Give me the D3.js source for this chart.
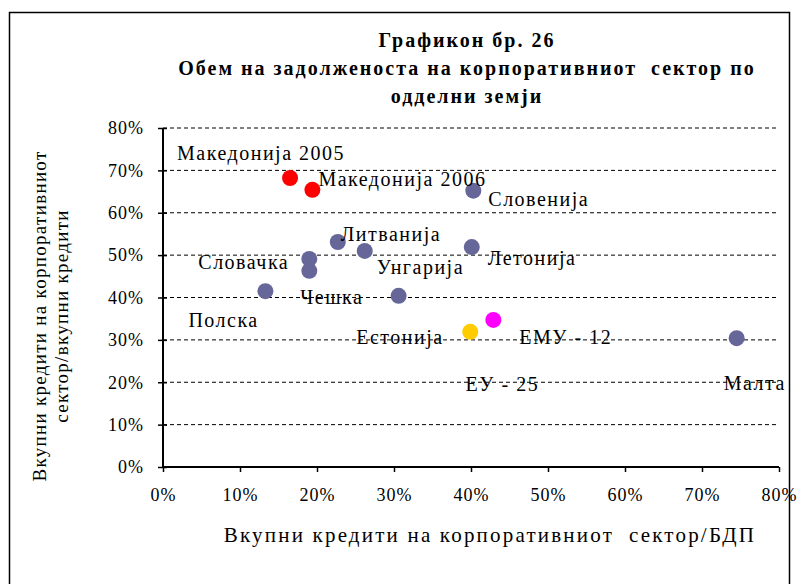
<!DOCTYPE html>
<html><head><meta charset="utf-8">
<script src="https://cdn.jsdelivr.net/npm/d3@7"></script>
<style>body{margin:0;background:#fff}svg text{font-family:"Liberation Serif","Times New Roman",serif;fill:#000;white-space:pre}</style>
</head><body><svg id="c" width="800" height="584"></svg>
<script>
const names = ["Македонија 2005","Македонија 2006","Словенија","Литванија","Унгарија","Летонија","Словачка","Чешка","Полска","ЕУ - 25","Естонија","ЕМУ - 12","Малта"];
const xValues = [16.5,19.4,40.3,22.7,26.2,40.1,19.0,19.0,13.3,30.6,39.9,42.9,74.5];
const yValues = [68.2,65.4,65.2,53.1,51.0,51.9,49.1,46.3,41.5,40.4,31.9,34.7,30.4];
const groups = ["mk","mk","c","c","c","c","c","c","c","c","ee","emu","c"];
const xTicks = [0,10,20,30,40,50,60,70,80];
const yTicks = [0,10,20,30,40,50,60,70,80];
const titleLines = ["Графикон бр. 26","Обем на задолженоста на корпоративниот  сектор по","одделни земји"];
const yTitleLines = ["Вкупни кредити на корпоративниот","сектор/вкупни кредити"];
const xTitle = "Вкупни кредити на корпоративниот  сектор/БДП";

// label placement (pixel offsets from point, text-anchor start)
const labelOffsets = [[-113,-18],[6,-4],[15,15],[3,-1],[12,23],[16,18],[-111,10],[-9,33],[-77,36],[67,95],[-114,12],[26,24],[-13,52]];
const colors = {mk:"#FF0000", c:"#666699", ee:"#FFCC00", emu:"#FF00FF"};

const svg = d3.select("#c");
const L=163, R=779, T=128, B=467;
const x = d3.scaleLinear().domain([0,80]).range([L,R]);
const y = d3.scaleLinear().domain([0,80]).range([B,T]);

svg.append("rect").attr("x",9.5).attr("y",12.5).attr("width",780).attr("height",600)
  .attr("fill","none").attr("stroke","#000").attr("stroke-width",1.5);

// title
svg.append("g").selectAll("text").data(titleLines).join("text")
  .attr("x",467).attr("y",(d,i)=>47+i*28).attr("text-anchor","middle")
  .attr("font-size",20).attr("font-weight","bold").attr("letter-spacing","2px").text(d=>d);

// gridlines
svg.append("g").selectAll("line").data(yTicks.filter(d=>d>0)).join("line")
  .attr("x1",L).attr("x2",R).attr("y1",d=>y(d)).attr("y2",d=>y(d))
  .attr("stroke","#000").attr("stroke-width",1).attr("stroke-dasharray","4,3");

// axes
const xAxis = d3.axisBottom(x).tickValues(xTicks).tickFormat(d=>d+"%").tickSize(5).tickPadding(16);
const gx = svg.append("g").attr("transform",`translate(0,${B})`).call(xAxis);
gx.select(".domain").attr("stroke","#000").attr("stroke-width",2).attr("d",`M${L},0H${R}`);
gx.selectAll(".tick line").attr("stroke","#000").attr("stroke-width",1.5);
gx.selectAll(".tick text").attr("font-size",18).attr("font-family","Liberation Serif").attr("fill","#000").attr("letter-spacing","1px");

const yAxis = d3.axisLeft(y).tickValues(yTicks).tickFormat(d=>d+"%").tickSize(5).tickPadding(14);
const gy = svg.append("g").attr("transform",`translate(${L},0)`).call(yAxis);
gy.select(".domain").attr("stroke","#000").attr("stroke-width",2).attr("d",`M0,${T}V${B}`);
gy.selectAll(".tick line").attr("stroke","#000").attr("stroke-width",1.5).attr("x1",4);
gy.selectAll(".tick text").attr("font-size",18).attr("font-family","Liberation Serif").attr("fill","#000").attr("letter-spacing","1px");

// axis titles
svg.append("text").attr("x",490).attr("y",542).attr("text-anchor","middle").attr("font-size",21)
  .attr("letter-spacing","2.2px").text(xTitle);
svg.append("g").attr("transform","translate(0,316) rotate(-90)").selectAll("text").data(yTitleLines).join("text")
  .attr("x",0).attr("y",(d,i)=>46+i*22).attr("text-anchor","middle").attr("font-size",19)
  .attr("letter-spacing","1.3px").text(d=>d);

// points
const pts = names.map((n,i)=>({n, x:xValues[i], y:yValues[i], g:groups[i], o:labelOffsets[i]}));
svg.append("g").selectAll("circle").data(pts).join("circle")
  .attr("cx",d=>x(d.x)).attr("cy",d=>y(d.y)).attr("r",8).attr("fill",d=>colors[d.g]);
svg.append("g").selectAll("text").data(pts).join("text")
  .attr("x",d=>x(d.x)+d.o[0]).attr("y",d=>y(d.y)+d.o[1]).attr("font-size",20)
  .attr("letter-spacing","1.5px").text(d=>d.n);
</script></body></html>
